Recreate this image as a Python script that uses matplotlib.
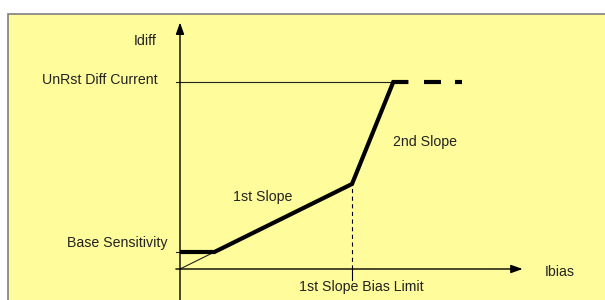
import matplotlib.pyplot as plt
from matplotlib.patches import Rectangle

plt.rcParams['font.family'] = ['Liberation Sans', 'DejaVu Sans']
plt.rcParams['lines.scale_dashes'] = False

# characteristic breakpoints (Ibias, Idiff) in arbitrary units
ibias_curve = [0.0, 0.25, 1.25, 1.55, 1.66]
idiff_curve = [0.2, 0.2, 1.0, 2.2, 2.2]
ibias_ext = [1.77, 2.05]          # dashed continuation
base_sens = 0.2
unrst = 2.2
bias_limit = 1.25
knee_idiff = 1.0
origin_line_x = [0.0, 0.25]
origin_line_y = [0.0, 0.2]

fig = plt.figure(figsize=(6.05, 3.0), dpi=100)
fig.patch.set_facecolor('white')

ax = fig.add_axes([0, 0, 1, 1])
ax.set_facecolor('none')
ax.set_xlim(-180 / 137.6, 425 / 137.6)
ax.set_ylim(-31 / 85, 269 / 85)
ax.axis('off')

# yellow panel with grey border (right and bottom edges run off the picture)
ax.add_patch(Rectangle((8 / 605, -0.1), 1.1, 0.1 + 286 / 300,
                       transform=ax.transAxes, facecolor='#fffc9b',
                       edgecolor='#7f7f7f', linewidth=1.2, zorder=0,
                       clip_on=False))

arrow = dict(arrowstyle='-|>,head_length=0.7,head_width=0.25', lw=1,
             color='black', shrinkA=0, shrinkB=0)
# axes with arrows
ax.annotate('', xy=(0, 2.9), xytext=(0, -0.4), arrowprops=arrow)
ax.annotate('', xy=(2.49, 0), xytext=(-0.03, 0), arrowprops=arrow)

# reference lines
ax.plot([-0.03, 1.55], [unrst, unrst], color='#222222', lw=0.8)
ax.plot([-0.03, 0], [base_sens, base_sens], color='#222222', lw=0.8)
ax.plot(origin_line_x, origin_line_y, color='#222222', lw=0.8)
ax.plot([bias_limit, bias_limit], [0, knee_idiff], color='black', lw=0.8,
        linestyle=(0, (3, 2.5)))
ax.plot([bias_limit, bias_limit], [0, -0.13], color='black', lw=0.8)

# characteristic
ax.plot(ibias_curve, idiff_curve, color='black', lw=3, solid_capstyle='butt',
        solid_joinstyle='miter')
ax.plot(ibias_ext, [unrst, unrst], color='black', lw=3, dash_capstyle='butt',
        linestyle=(0, (12.2, 10.1)))

fs = 10.2
tc = '#222222'
ax.text(-0.17, 2.68, 'Idiff', ha='right', va='center', fontsize=fs, color=tc)
ax.text(-0.16, unrst + 0.02, 'UnRst Diff Current', ha='right', va='center',
        fontsize=fs, color=tc)
ax.text(-0.09, 0.31, 'Base Sensitivity', ha='right', va='center',
        fontsize=fs, color=tc)
ax.text(0.6, 0.85, '1st Slope', ha='center', va='center', fontsize=fs, color=tc)
ax.text(1.78, 1.49, '2nd Slope', ha='center', va='center', fontsize=fs, color=tc)
ax.text(2.76, -0.04, 'Ibias', ha='center', va='center', fontsize=fs, color=tc)
ax.text(1.32, -0.21, '1st Slope Bias Limit', ha='center', va='center',
        fontsize=fs, color=tc)

fig.savefig('out.png', dpi=100)
